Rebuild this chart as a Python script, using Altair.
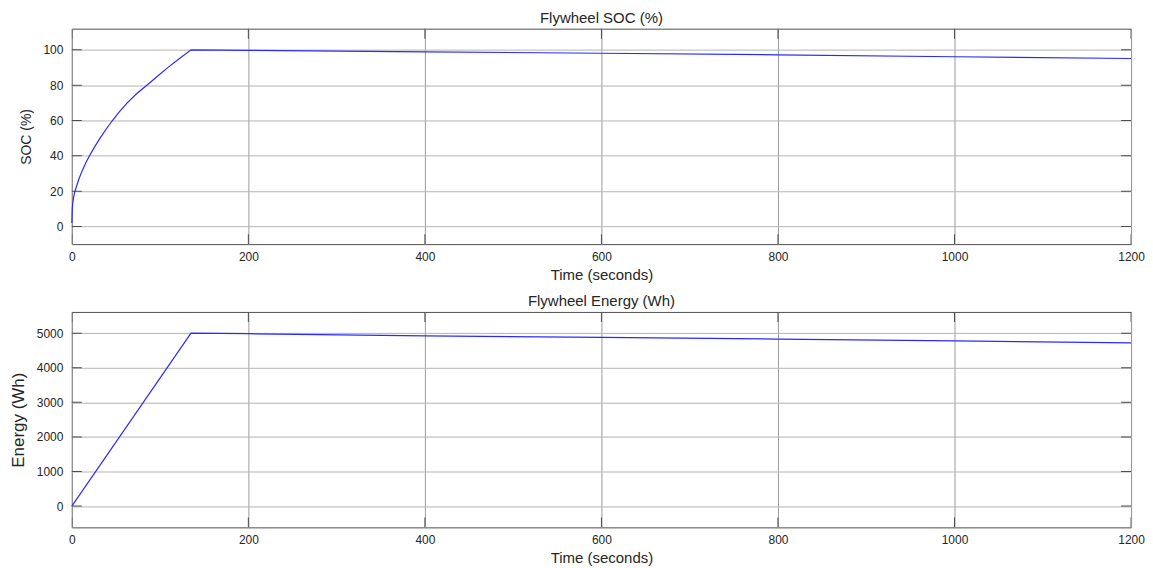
import altair as alt
import pandas as pd

# ---- data ----
soc_time = [0, 0.5, 1, 2, 3, 5, 8, 12, 16, 20, 26, 32, 39, 46, 54, 63, 74, 85, 97, 109, 122, 135,
            200, 400, 600, 800, 1000, 1200]
soc_pct = [2, 10, 13, 16.5, 19, 22.2, 26.9, 31.9, 36.2, 40, 45.2, 50, 55.2, 60, 65, 70.1, 75.4, 80,
           85.1, 90.1, 95.1, 100, 99.7, 98.9, 98.1, 97.2, 96.1, 95.1]

energy_time = [0, 135, 200, 400, 600, 800, 1000, 1200]
energy_wh = [0, 5000, 4985, 4925, 4880, 4830, 4780, 4720]

x_ticks = [0, 200, 400, 600, 800, 1000, 1200]
soc_ticks = [0, 20, 40, 60, 80, 100]
energy_ticks = [0, 1000, 2000, 3000, 4000, 5000]

W, H = 1062, 216
FONT = "Liberation Sans"
TXT = "#262626"
LINE = "#2a2aff"
FRAME = "#4d4d4d"


def panel(times, values, ytitle, ydomain, yticks, title, ytitle_size, ytitle_pad):
    df = pd.DataFrame({"t": times, "v": values})
    x_enc = alt.X(
        "t:Q",
        scale=alt.Scale(domain=[0, 1200], nice=False, zero=False),
        axis=alt.Axis(values=x_ticks, title="Time (seconds)", grid=True, ticks=False,
                      domain=False, labelPadding=7.5, titlePadding=4.5, labelFlush=False,
                      format="d", gridColor="#9c9c9c", gridWidth=1, titleFontSize=15),
    )
    y_enc = alt.Y(
        "v:Q",
        scale=alt.Scale(domain=ydomain, nice=False, zero=False),
        axis=alt.Axis(values=yticks, title=ytitle, grid=True, ticks=False, domain=False,
                      labelPadding=9, titlePadding=ytitle_pad, gridColor="#b4b4b4",
                      format="d", gridWidth=1, titleFontSize=ytitle_size),
    )
    line = alt.Chart(df).mark_line(color=LINE, strokeWidth=1.2).encode(x=x_enc, y=y_enc)
    xt = pd.DataFrame({"t": x_ticks})
    yt = pd.DataFrame({"v": yticks})
    tk = dict(size=20, thickness=1, color=FRAME, clip=True, opacity=1)
    t_top = alt.Chart(xt).mark_tick(orient="vertical", **tk).encode(x=x_enc, y=alt.value(0))
    t_bot = alt.Chart(xt).mark_tick(orient="vertical", **tk).encode(x=x_enc, y=alt.value(H))
    t_left = alt.Chart(yt).mark_tick(orient="horizontal", **tk).encode(y=y_enc, x=alt.value(0))
    t_right = alt.Chart(yt).mark_tick(orient="horizontal", **tk).encode(y=y_enc, x=alt.value(W))
    return alt.layer(line, t_top, t_bot, t_left, t_right).properties(
        width=W, height=H,
        title=alt.TitleParams(title, fontSize=15, fontWeight="normal", font=FONT,
                              color=TXT, offset=3, anchor="middle"),
    )


top = panel(soc_time, soc_pct, "SOC (%)", [-10, 112], soc_ticks, "Flywheel SOC (%)", 14, 9)
bottom = panel(energy_time, energy_wh, "Energy (Wh)", [-615, 5615], energy_ticks,
               "Flywheel Energy (Wh)", 17, 9)

chart = (
    alt.vconcat(top, bottom, spacing=68, bounds="flush")
    .properties(padding={"left": 0, "top": 1, "right": 0, "bottom": 0}, background="white")
    .configure_view(stroke=FRAME, strokeWidth=1)
    .configure_axis(labelFont=FONT, labelFontSize=12, labelColor=TXT,
                    titleFont=FONT, titleFontWeight="normal", titleColor=TXT)
)

chart.save("out.html", embed_options={"renderer": "svg", "actions": False})
